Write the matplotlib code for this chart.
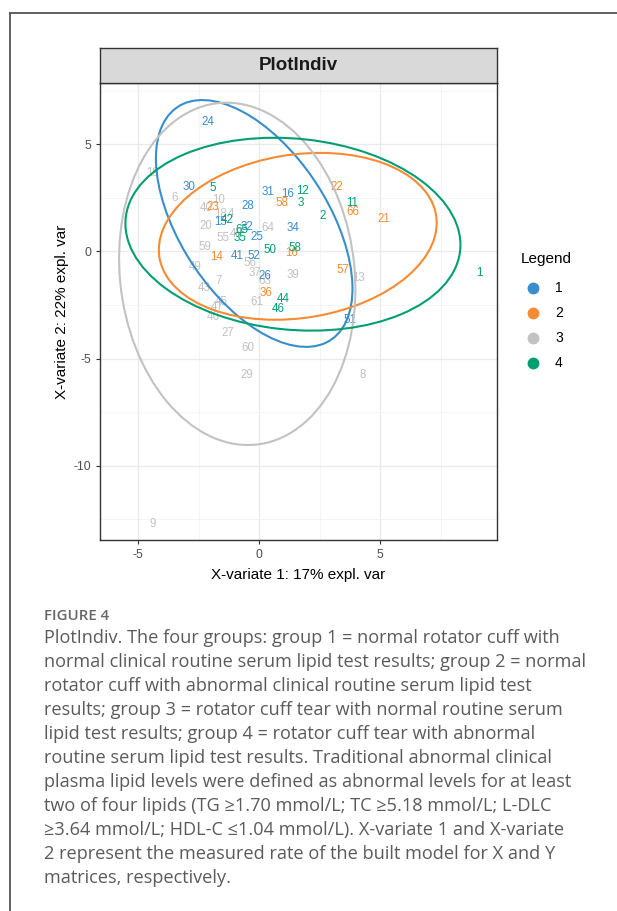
import matplotlib
matplotlib.use("Agg")
import matplotlib.pyplot as plt
from matplotlib.patches import Ellipse
import numpy as np

W, H = 617, 911
DPI = 100

# ---------------- data ----------------
group_colors = ["#388ECC", "#F68B33", "#C2C2C2", "#009E73"]
group_names = ["1", "2", "3", "4"]

g1_labels = ["24", "30", "31", "16", "28", "15", "32", "25", "34", "41", "52", "26", "51"]
g1_x = [-2.1, -2.9, 0.37, 1.16, -0.45, -1.6, -0.5, -0.08, 1.4, -0.91, -0.2, 0.25, 3.76]
g1_y = [6.03, 3.0, 2.76, 2.66, 2.1, 1.36, 1.12, 0.65, 1.07, -0.23, -0.23, -1.17, -3.22]

g2_labels = ["23", "58", "22", "66", "21", "14", "16", "57", "36"]
g2_x = [-1.9, 0.95, 3.22, 3.88, 5.17, -1.74, 1.36, 3.47, 0.29]
g2_y = [2.06, 2.24, 3.0, 1.82, 1.5, -0.28, -0.1, -0.89, -1.92]

g3_labels = ["19", "6", "10", "40", "18", "4", "20", "55", "48", "64", "59", "49", "56",
             "37", "63", "39", "7", "43", "61", "45", "47", "46", "27", "60", "29", "13",
             "8", "9"]
g3_x = [-4.38, -3.5, -1.65, -2.2, -1.6, -1.15, -2.2, -1.49, -0.95, 0.37, -2.23, -2.64, -0.37,
        -0.17, 0.25, 1.4, -1.65, -2.27, -0.08, -1.57, -1.74, -1.9, -1.28, -0.45, -0.5, 4.09,
        4.3, -4.38]
g3_y = [3.64, 2.5, 2.38, 2.0, 1.72, 1.72, 1.17, 0.61, 0.79, 1.07, 0.19, -0.75, -0.56,
        -1.03, -1.4, -1.12, -1.4, -1.73, -2.34, -2.38, -2.6, -3.04, -3.8, -4.49, -5.75, -1.26,
        -5.75, -12.7]

g4_labels = ["5", "12", "3", "11", "2", "42", "65", "35", "50", "58", "44", "46", "1"]
g4_x = [-1.9, 1.78, 1.74, 3.84, 2.64, -1.3, -0.7, -0.78, 0.45, 1.49, 0.99, 0.79, 9.09]
g4_y = [2.94, 2.8, 2.24, 2.24, 1.64, 1.45, 0.98, 0.61, 0.05, 0.14, -2.24, -2.71, -1.03]

# confidence ellipses per group: centre, full width, full height, angle (deg)
ell_cx = [-0.2, 1.6, -0.9, 1.4]
ell_cy = [1.3, 0.7, -1.05, 0.8]
ell_w = [12.6, 11.6, 9.7, 13.9]
ell_h = [6.3, 7.6, 16.0, 8.9]
ell_ang = [-62, 11, 5, -7]

x_ticks = [-5, 0, 5]
y_ticks = [-10, -5, 0, 5]
x_label = "X-variate 1: 17% expl. var"
y_label = "X-variate 2: 22% expl. var"
title = "PlotIndiv"

caption_head = "FIGURE 4"
caption_lines = [
    "PlotIndiv. The four groups: group 1 = normal rotator cuff with",
    "normal clinical routine serum lipid test results; group 2 = normal",
    "rotator cuff with abnormal clinical routine serum lipid test",
    "results; group 3 = rotator cuff tear with normal routine serum",
    "lipid test results; group 4 = rotator cuff tear with abnormal",
    "routine serum lipid test results. Traditional abnormal clinical",
    "plasma lipid levels were defined as abnormal levels for at least",
    "two of four lipids (TG \u22651.70 mmol/L; TC \u22655.18 mmol/L; L-DLC",
    "\u22653.64 mmol/L; HDL-C \u22641.04 mmol/L). X-variate 1 and X-variate",
    "2 represent the measured rate of the built model for X and Y",
    "matrices, respectively.",
]

# ---------------- figure ----------------
fig = plt.figure(figsize=(W / DPI, H / DPI), dpi=DPI)
fig.patch.set_facecolor("white")

def fx(px):
    return px / W

def fy(py):
    return 1 - py / H

# outer frame lines (top and left)
fig.add_artist(plt.Line2D([fx(9.5), 1.0], [fy(12.5), fy(12.5)], color="#555555", lw=1.3))
fig.add_artist(plt.Line2D([fx(9.5), fx(9.5)], [fy(12.5), 0.0], color="#555555", lw=1.3))

# panel
pl, pr, pt, pb = 100, 497, 83, 540
ax = fig.add_axes([fx(pl), fy(pb), fx(pr) - fx(pl), fy(pt) - fy(pb)])
ax.set_xlim(-6.57, 9.83)
ax.set_ylim(-13.46, 7.85)
ax.set_facecolor("white")

# grid
for v in np.arange(-5, 10.1, 5):
    ax.axvline(v, color="#EBEBEB", lw=1.0, zorder=0)
for v in np.arange(-7.5, 10.1, 5):
    ax.axvline(v, color="#F2F2F2", lw=0.6, zorder=0)
for v in np.arange(-10, 7.6, 5):
    ax.axhline(v, color="#EBEBEB", lw=1.0, zorder=0)
for v in np.arange(-12.5, 7.6, 5):
    ax.axhline(v, color="#F2F2F2", lw=0.6, zorder=0)

groups = [
    (g1_labels, g1_x, g1_y),
    (g2_labels, g2_x, g2_y),
    (g3_labels, g3_x, g3_y),
    (g4_labels, g4_x, g4_y),
]
draw_order = [2, 0, 1, 3]
for gi in draw_order:
    labs, xs, ys = groups[gi]
    for lab, x, y in zip(labs, xs, ys):
        ax.text(x, y, lab, color=group_colors[gi], fontsize=8.3,
                family="Liberation Sans", ha="center", va="center", zorder=3)

for gi in range(4):
    e = Ellipse((ell_cx[gi], ell_cy[gi]), ell_w[gi], ell_h[gi], angle=ell_ang[gi],
                fill=False, edgecolor=group_colors[gi], lw=1.5, zorder=4)
    ax.add_patch(e)

for s in ax.spines.values():
    s.set_color("#333333")
    s.set_linewidth(1.0)

ax.set_xticks(x_ticks)
ax.set_yticks(y_ticks)
ax.set_xticklabels([str(t) for t in x_ticks])
ax.set_yticklabels([str(t) for t in y_ticks])
ax.tick_params(axis="both", colors="#333333", labelcolor="#4D4D4D", labelsize=8.8,
               length=3, width=0.8)
for lab in ax.get_xticklabels() + ax.get_yticklabels():
    lab.set_family("Liberation Sans")

fig.text(fx((pl + pr) / 2), fy(575), x_label, ha="center", va="center",
         fontsize=11, family="Liberation Sans", color="black")
fig.text(fx(62), fy((pt + pb) / 2), y_label, ha="center", va="center", rotation=90,
         fontsize=11, family="Liberation Sans", color="black")

# strip
sax = fig.add_axes([fx(pl), fy(pt), fx(pr) - fx(pl), fy(48) - fy(pt)])
sax.set_facecolor("#D9D9D9")
sax.set_xticks([])
sax.set_yticks([])
for s in sax.spines.values():
    s.set_color("#333333")
    s.set_linewidth(1.0)
sax.text(0.5, 0.5, title, ha="center", va="center", fontsize=13.5, fontweight="bold",
         family="Liberation Sans", color="#1A1A1A", transform=sax.transAxes)

# legend
fig.text(fx(521), fy(259), "Legend", ha="left", va="center", fontsize=11,
         family="Liberation Sans", color="black")
leg_y = [288, 313, 338, 363]
for gi in range(4):
    fig.add_artist(plt.Line2D([fx(533)], [fy(leg_y[gi])], marker="o", markersize=7.5,
                              color=group_colors[gi], linestyle="none"))
    fig.text(fx(555), fy(leg_y[gi]), group_names[gi], ha="left", va="center", fontsize=10,
             family="Liberation Sans", color="black")

# caption
cap_color = "#5A5A5A"
fig.text(fx(44), fy(616), caption_head, ha="left", va="center", fontsize=10.8,
         family="Open Sans", fontweight="semibold", color="#666666")
line_y0 = 638
line_dy = 24.0
for i, line in enumerate(caption_lines):
    fig.text(fx(44), fy(line_y0 + i * line_dy), line, ha="left", va="center",
             fontsize=13.1, family="Open Sans", color=cap_color)

fig.savefig("out.png", dpi=DPI, facecolor="white")
